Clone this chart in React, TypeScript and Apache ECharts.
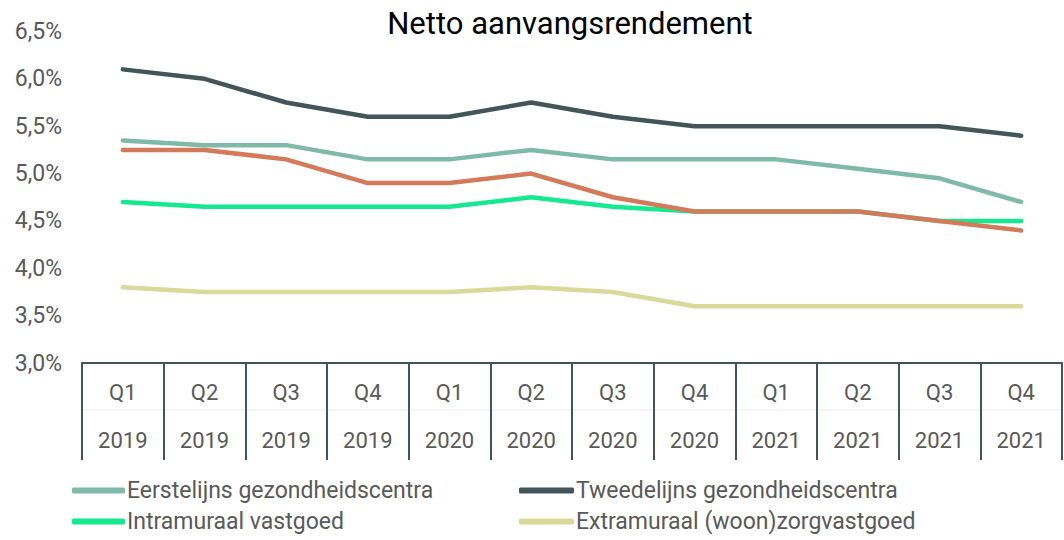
import React, { useEffect, useRef } from "react";
import * as echarts from "echarts";

const quarters = ["Q1", "Q2", "Q3", "Q4", "Q1", "Q2", "Q3", "Q4", "Q1", "Q2", "Q3", "Q4"];
const years = ["2019", "2019", "2019", "2019", "2020", "2020", "2020", "2020", "2021", "2021", "2021", "2021"];
const categories = quarters.map((q, i) => q + "|" + years[i]);

const eerstelijns = [5.35, 5.3, 5.3, 5.15, 5.15, 5.25, 5.15, 5.15, 5.15, 5.05, 4.95, 4.7];
const tweedelijns = [6.1, 6.0, 5.75, 5.6, 5.6, 5.75, 5.6, 5.5, 5.5, 5.5, 5.5, 5.4];
const intramuraal = [4.7, 4.65, 4.65, 4.65, 4.65, 4.75, 4.65, 4.6, 4.6, 4.6, 4.5, 4.5];
const extramuraal = [3.8, 3.75, 3.75, 3.75, 3.75, 3.8, 3.75, 3.6, 3.6, 3.6, 3.6, 3.6];
const overig = [5.25, 5.25, 5.15, 4.9, 4.9, 5.0, 4.75, 4.6, 4.6, 4.6, 4.5, 4.4];

const seriesNames = [
  "Eerstelijns gezondheidscentra",
  "Tweedelijns gezondheidscentra",
  "Intramuraal vastgoed",
  "Extramuraal (woon)zorgvastgoed",
  "Overig",
];

export default function App() {
  const ref = useRef<HTMLDivElement>(null);
  useEffect(() => {
    if (!ref.current) return;
    const chart = echarts.init(ref.current, undefined, { renderer: "svg" });
    const font = "Roboto";
    const mk = (name: string, data: number[], color: string) => ({
      name,
      type: "line",
      data,
      symbol: "none",
      lineStyle: { width: 4.5, color, cap: "round", join: "round" },
      itemStyle: { color },
      color,
    });
    const legendText = { fontFamily: font, fontSize: 23, color: "#595959", padding: [0, 0, 0, -3] };
    chart.setOption({
      animation: false,
      title: {
        text: "Netto aanvangsrendement",
        left: 565,
        textAlign: "center",
        top: 3,
        textStyle: { fontFamily: font, fontSize: 31, fontWeight: "normal", color: "#000" },
      },
      grid: { left: 82, right: 2, top: 31.5, bottom: 177, containLabel: false },
      xAxis: {
        type: "category",
        data: categories,
        boundaryGap: true,
        axisLine: { lineStyle: { color: "#44555a", width: 2 } },
        axisTick: { show: true, length: 97, lineStyle: { color: "#44555a", width: 2 } },
        axisLabel: {
          interval: 0,
          margin: 5,
          formatter: (v: string) => {
            const [q, y] = v.split("|");
            return "{q|" + q + "}\n{y|" + y + "}";
          },
          rich: {
            q: { fontFamily: font, fontSize: 22, color: "#595959", lineHeight: 48, height: 48 },
            y: { fontFamily: font, fontSize: 22, color: "#595959", lineHeight: 48, height: 48 },
          },
        },
      },
      yAxis: {
        type: "value",
        min: 3,
        max: 6.5,
        interval: 0.5,
        splitLine: { show: false },
        axisLine: { show: false },
        axisTick: { show: false },
        axisLabel: {
          margin: 20,
          fontFamily: font,
          fontSize: 23,
          color: "#595959",
          formatter: (v: number) => v.toFixed(1).replace(".", ",") + "%",
        },
      },
      legend: [
        {
          data: [seriesNames[0], seriesNames[2]],
          orient: "vertical",
          left: 67,
          top: 474,
          itemWidth: 53,
          itemHeight: 6,
          itemGap: 8,
          icon: "roundRect",
          textStyle: legendText,
        },
        {
          data: [seriesNames[1], seriesNames[3]],
          orient: "vertical",
          left: 514,
          top: 474,
          itemWidth: 55,
          itemHeight: 6,
          itemGap: 8,
          icon: "roundRect",
          textStyle: legendText,
        },
      ],
      graphic: [
        {
          type: "line",
          shape: { x1: 82, y1: 410, x2: 1062, y2: 410 },
          style: { stroke: "#ececec", lineWidth: 1 },
          z: -1,
        },
      ],
      series: [
        mk(seriesNames[0], eerstelijns, "#7fbaa8"),
        mk(seriesNames[1], tweedelijns, "#435558"),
        mk(seriesNames[2], intramuraal, "#14e890"),
        mk(seriesNames[3], extramuraal, "#d9d99a"),
        mk(seriesNames[4], overig, "#d27a5a"),
      ],
    });
    return () => chart.dispose();
  }, []);
  return <div ref={ref} style={{ width: 1064, height: 540, position: "absolute", left: 0, top: 0 }} />;
}
